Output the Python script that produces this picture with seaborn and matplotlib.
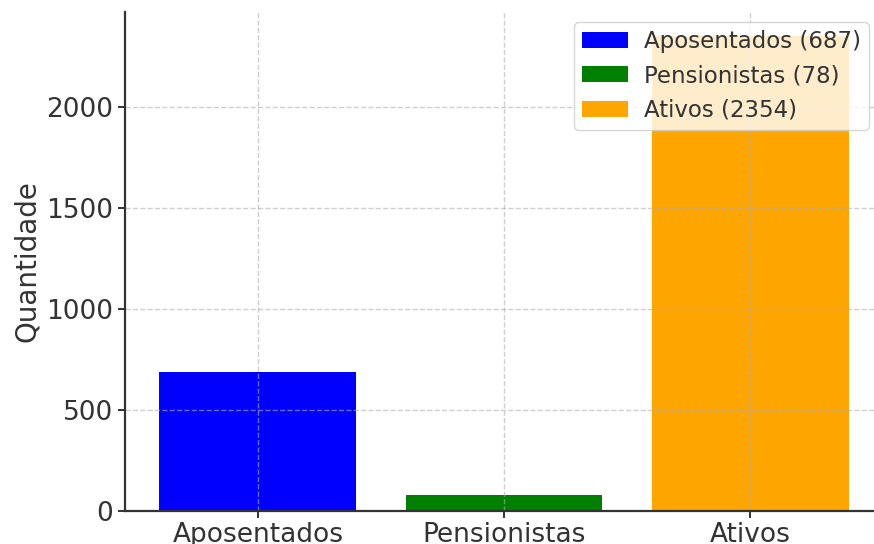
import matplotlib
matplotlib.use("Agg")
import matplotlib.pyplot as plt
import seaborn as sns
import pandas as pd

# Dados
categorias = ["Aposentados", "Pensionistas", "Ativos"]
quantidades = [687, 78, 2354]
cores = ["#0000ff", "#008000", "#ffa500"]

df = pd.DataFrame({"Categoria": categorias, "Quantidade": quantidades})

W, H = 874, 544
fig = plt.figure(figsize=(W / 100, H / 100), dpi=100)
# axes placed in pixel coords: left spine x=125, bottom spine y=511, top y=12
ax = fig.add_axes([125 / W, (H - 511) / H, (883 - 125) / W, (511 - 12) / H])

sns.barplot(data=df, x="Categoria", y="Quantidade", hue="Categoria",
            palette=cores, width=0.8, saturation=1, legend=False, ax=ax)
ax.set_xlim(-0.54, 2.54)
ax.set_ylim(0, max(quantidades) * 1.05)

ax.grid(True, linestyle="--", color="#b0b0b0", alpha=0.6, linewidth=1)
ax.set_axisbelow("line")
ax.spines["top"].set_visible(False)
ax.spines["right"].set_visible(False)
for s in ["left", "bottom"]:
    ax.spines[s].set_linewidth(1.6)
    ax.spines[s].set_color("#333333")

ax.set_xlabel("")
ax.set_ylabel("Quantidade", fontsize=20, color="#333333")
ax.set_yticks([0, 500, 1000, 1500, 2000])
ax.tick_params(axis="both", labelsize=19, colors="#333333", width=1.4, length=5)
ax.tick_params(axis="x", pad=3)

handles = ax.patches[:3]
labels = [f"{c} ({q})" for c, q in zip(categorias, quantidades)]
leg = ax.legend(handles, labels, loc="upper right", fontsize=16.5,
                bbox_to_anchor=(869 / W, 1 - 22 / H), bbox_transform=fig.transFigure,
                borderaxespad=0, framealpha=0.8, labelspacing=0.5,
                handletextpad=0.7, borderpad=0.35)
for t in leg.get_texts():
    t.set_color("#333333")

fig.savefig("out.png", dpi=100)
